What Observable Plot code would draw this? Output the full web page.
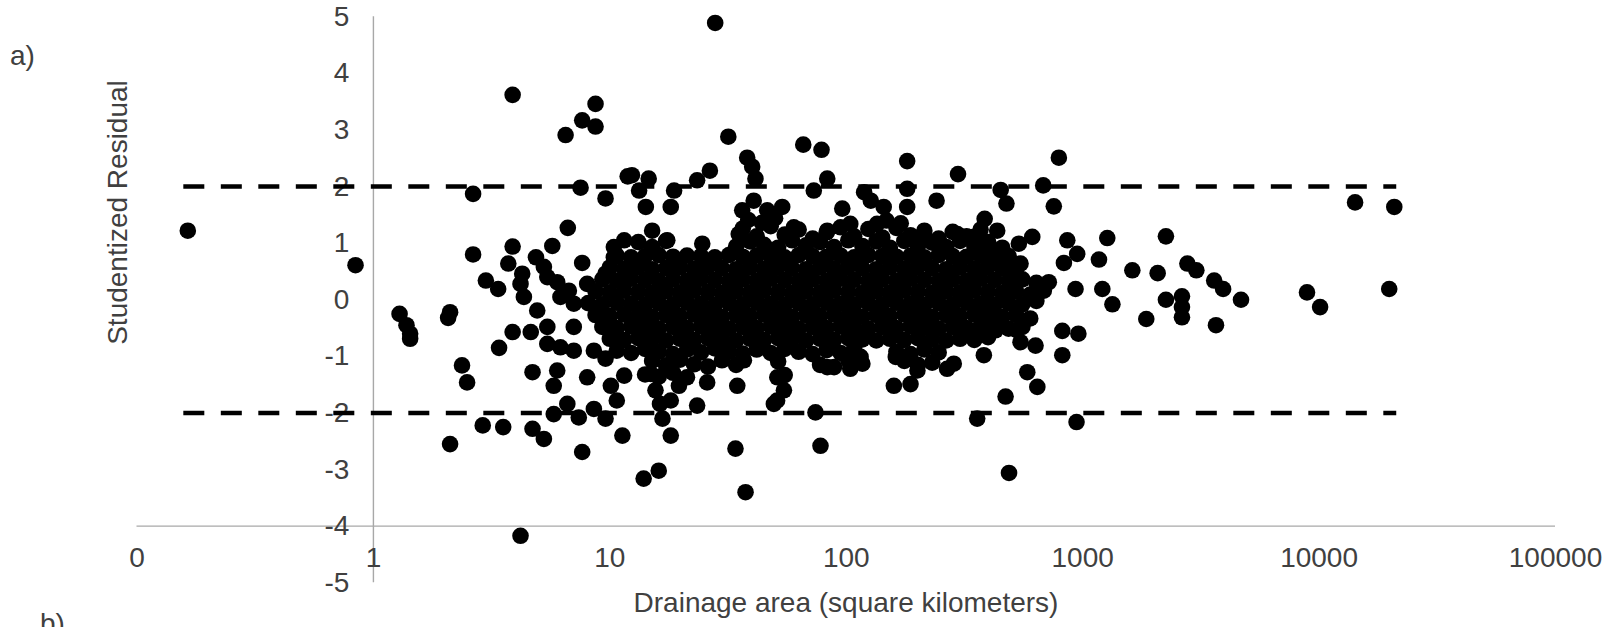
<!DOCTYPE html>
<html>
<head>
<meta charset="utf-8">
<script src="https://cdn.jsdelivr.net/npm/d3@7"></script>
<script src="https://cdn.jsdelivr.net/npm/@observablehq/plot@0.6"></script>
<style>
html, body { margin: 0; padding: 0; background: #ffffff; overflow: hidden; }
#chart { width: 1620px; height: 627px; overflow: hidden; }
</style>
</head>
<body>
<div id="chart"></div>
<script>
// ---- Data: [drainage area (km²), studentized residual] ----
const smallBasinPoints = [
  [0.164, 1.22], [0.84, 0.61],
  [1.29, -0.25], [1.38, -0.45], [1.43, -0.60], [1.43, -0.69],
  [2.11, -0.22], [2.07, -0.32], [2.37, -1.16], [2.49, -1.46], [2.11, -2.55],
  [2.64, 1.87], [2.64, 0.80], [2.99, 0.34], [3.37, 0.19], [2.90, -2.22],
  [3.88, 3.62], [3.88, 0.94], [3.72, 0.64], [4.26, 0.46], [4.87, 0.75],
  [3.54, -2.25], [4.71, -2.28], [4.19, -4.17], [3.88, -0.57], [3.40, -0.85], [4.63, -0.57], [4.71, -1.28],
  [5.71, 0.95], [5.26, 0.58], [5.44, 0.40], [4.19, 0.28], [5.99, 0.31], [4.33, 0.05], [4.93, -0.19],
  [5.26, -2.46], [5.99, -1.25], [5.79, -1.52], [5.79, -2.02], [5.44, -0.48], [5.44, -0.78]
];
const tenKmPoints = [
  [8.70, 3.46], [7.64, 3.17], [8.70, 3.06], [6.50, 2.91], [7.52, 1.98], [9.59, 1.79], [11.9, 2.18], [6.64, 1.27],
  [7.64, 0.65], [6.71, 0.16], [8.02, 0.28], [10.4, 0.93], [11.5, 1.05], [10.4, 0.75], [9.59, 0.46],
  [8.02, -1.37], [10.1, -1.52], [11.5, -1.34], [10.7, -1.78], [6.61, -1.84], [7.39, -2.08], [8.56, -1.93],
  [9.59, -2.10], [7.64, -2.69], [11.3, -2.40], [13.9, -3.16],
  [6.18, -0.84], [7.04, -0.48], [7.04, -0.90], [8.56, -0.90], [9.59, -1.04], [6.18, 0.05], [7.04, -0.07],
  [12.4, 2.20], [13.3, 1.93], [14.2, 1.64], [14.6, 2.14], [15.1, 1.22]
];
const midBasinOutliers = [
  [27.9, 4.89], [31.7, 2.88], [65.8, 2.74], [78.6, 2.65], [38.1, 2.51], [40.0, 2.35], [41.3, 2.14],
  [26.5, 2.28], [23.4, 2.11], [18.7, 1.93], [18.1, 1.64],
  [83.1, 2.14], [72.9, 1.93], [40.6, 1.75], [36.3, 1.58], [53.6, 1.64], [46.3, 1.58], [96.2, 1.61],
  [119, 1.90], [127, 1.75], [144, 1.64],
  [24.6, 0.99], [17.5, 1.05], [35.1, 1.16], [60.0, 1.28], [83.1, 1.22], [104, 1.34], [135, 1.34],
  [16.7, -2.10], [18.1, -2.40], [23.4, -1.87], [16.1, -3.02], [34.0, -2.63], [37.5, -3.40], [49.4, -1.84],
  [74.1, -1.99], [77.8, -2.58],
  [34.6, -1.52], [25.8, -1.46], [19.6, -1.52], [21.2, -1.37], [18.1, -1.78], [15.6, -1.60], [14.9, -1.31],
  [54.5, -1.60], [51.1, -1.37], [36.9, -1.07], [42.1, -0.84], [83.1, -1.19], [104, -1.22], [115, -1.01],
  [16.3, -1.84], [51.0, -1.78]
];
const largeBasinPoints = [
  [181, 2.45], [297, 2.22], [793, 2.51], [181, 1.96], [241, 1.75], [450, 1.94], [476, 1.70], [681, 2.02],
  [755, 1.65], [181, 1.64],
  [385, 1.43], [435, 1.22], [537, 0.99], [612, 1.11], [861, 1.05], [1271, 1.09], [948, 0.81], [833, 0.65],
  [1172, 0.71], [1622, 0.52],
  [719, 0.31], [685, 0.16], [933, 0.19], [1211, 0.19], [546, 0.64], [295, 1.16], [347, 1.11], [213, 1.16],
  [401, 0.93], [488, 0.58],
  [14200, 1.72], [20800, 1.64], [19800, 0.19], [8890, 0.13], [10100, -0.13],
  [2250, 1.12], [2076, 0.47], [2773, 0.64], [3026, 0.52], [3600, 0.34], [3927, 0.19], [4674, 0.00],
  [1336, -0.08], [2250, 0.00], [2630, 0.06], [2630, -0.13], [1858, -0.34], [3664, -0.45], [2630, -0.31],
  [820, -0.55], [959, -0.60], [820, -0.98], [942, -2.16],
  [162, -1.01], [159, -1.52], [187, -1.49], [200, -1.25], [267, -1.22], [285, -1.13], [382, -0.98],
  [358, -0.54], [428, -0.54], [529, -0.54], [546, -0.75], [632, -0.81], [583, -1.28], [643, -1.54],
  [472, -1.71], [358, -2.10], [488, -3.06]
];
// the dense central cloud, read band by band
const cloudUpper = [
  [38.5, 1.41], [44, 1.36], [50, 1.44], [148, 1.40], [170, 1.35],
  [36.5, 1.26], [41.8, 1.12], [47.9, 1.30], [54.9, 1.15], [62.9, 1.24], [72.1, 1.08], [82.6, 1.19], [94.6, 1.28],
  [108, 1.12], [124, 1.25], [142, 1.10], [163, 1.27], [187, 1.14], [214, 1.22], [246, 1.08], [282, 1.20],
  [323, 1.12], [370, 1.24],
  [13.2, 1.02], [15.1, 0.93], [17.3, 1.04], [34.2, 0.94], [39.2, 1.03], [44.9, 0.97], [51.5, 0.92], [59.0, 1.05],
  [67.6, 0.96], [77.5, 1.02], [88.8, 0.93], [102, 1.05], [117, 0.95], [134, 1.03], [153, 0.92], [176, 1.04],
  [201, 0.95], [231, 1.01], [265, 0.93], [303, 1.04], [348, 0.95], [398, 1.02], [457, 0.92],
  [10.7, 0.78], [12.3, 0.75], [14.1, 0.77], [16.1, 0.79], [18.5, 0.76], [21.2, 0.78], [24.3, 0.77], [27.8, 0.75],
  [31.9, 0.79], [36.5, 0.76], [41.8, 0.78], [47.9, 0.77], [54.9, 0.75], [62.9, 0.79], [72.1, 0.77], [82.6, 0.76],
  [94.6, 0.78], [108, 0.75], [124, 0.79], [142, 0.77], [163, 0.76], [187, 0.78], [214, 0.75], [246, 0.79],
  [282, 0.77], [323, 0.76], [370, 0.78], [424, 0.75], [486, 0.77],
  [10.0, 0.57], [11.5, 0.55], [13.2, 0.58], [15.1, 0.54], [17.3, 0.56], [19.8, 0.57], [22.7, 0.55], [26.0, 0.58],
  [29.8, 0.56], [34.2, 0.54], [39.2, 0.57], [44.9, 0.55], [51.5, 0.58], [59.0, 0.56], [67.6, 0.54], [77.5, 0.57],
  [88.8, 0.55], [102, 0.58], [117, 0.56], [134, 0.54], [153, 0.57], [176, 0.55], [201, 0.58], [231, 0.56],
  [265, 0.54], [303, 0.57], [348, 0.55], [398, 0.58], [457, 0.56], [523, 0.54],
  [9.3, 0.36], [10.7, 0.34], [12.3, 0.37], [14.1, 0.35], [16.1, 0.33], [18.5, 0.36], [21.2, 0.34], [24.3, 0.37],
  [27.8, 0.35], [31.9, 0.33], [36.5, 0.36], [41.8, 0.34], [47.9, 0.37], [54.9, 0.35], [62.9, 0.33], [72.1, 0.36],
  [82.6, 0.34], [94.6, 0.37], [108, 0.35], [124, 0.33], [142, 0.36], [163, 0.34], [187, 0.37], [214, 0.35],
  [246, 0.33], [282, 0.36], [323, 0.34], [370, 0.37], [424, 0.35], [486, 0.33], [556, 0.36], [637, 0.30],
  [8.7, 0.15], [10.0, 0.13], [11.5, 0.16], [13.2, 0.14], [15.1, 0.12], [17.3, 0.15], [19.8, 0.13], [22.7, 0.16],
  [26.0, 0.14], [29.8, 0.12], [34.2, 0.15], [39.2, 0.13], [44.9, 0.16], [51.5, 0.14], [59.0, 0.12], [67.6, 0.15],
  [77.5, 0.13], [88.8, 0.16], [102, 0.14], [117, 0.12], [134, 0.15], [153, 0.13], [176, 0.16], [201, 0.14],
  [231, 0.12], [265, 0.15], [303, 0.13], [348, 0.16], [398, 0.14], [457, 0.12], [523, 0.15], [600, 0.09]
];
const cloudLower = [
  [8.1, -0.06], [9.3, -0.08], [10.7, -0.05], [12.3, -0.07], [14.1, -0.09], [16.1, -0.06], [18.5, -0.08],
  [21.2, -0.05], [24.3, -0.07], [27.8, -0.09], [31.9, -0.06], [36.5, -0.08], [41.8, -0.05], [47.9, -0.07],
  [54.9, -0.09], [62.9, -0.06], [72.1, -0.08], [82.6, -0.05], [94.6, -0.07], [108, -0.09], [124, -0.06],
  [142, -0.08], [163, -0.05], [187, -0.07], [214, -0.09], [246, -0.06], [282, -0.08], [323, -0.05],
  [370, -0.07], [424, -0.09], [486, -0.06], [556, -0.08], [637, -0.02],
  [8.7, -0.27], [10.0, -0.29], [11.5, -0.26], [13.2, -0.28], [15.1, -0.30], [17.3, -0.27], [19.8, -0.29],
  [22.7, -0.26], [26.0, -0.28], [29.8, -0.30], [34.2, -0.27], [39.2, -0.29], [44.9, -0.26], [51.5, -0.28],
  [59.0, -0.30], [67.6, -0.27], [77.5, -0.29], [88.8, -0.26], [102, -0.28], [117, -0.30], [134, -0.27],
  [153, -0.29], [176, -0.26], [201, -0.28], [231, -0.30], [265, -0.27], [303, -0.29], [348, -0.26],
  [398, -0.28], [457, -0.30], [523, -0.27], [600, -0.33],
  [9.3, -0.48], [10.7, -0.50], [12.3, -0.47], [14.1, -0.49], [16.1, -0.51], [18.5, -0.48], [21.2, -0.50],
  [24.3, -0.47], [27.8, -0.49], [31.9, -0.51], [36.5, -0.48], [41.8, -0.50], [47.9, -0.47], [54.9, -0.49],
  [62.9, -0.51], [72.1, -0.48], [82.6, -0.50], [94.6, -0.47], [108, -0.49], [124, -0.51], [142, -0.48],
  [163, -0.50], [187, -0.47], [214, -0.49], [246, -0.51], [282, -0.48], [323, -0.50], [370, -0.47],
  [424, -0.49], [486, -0.51], [556, -0.48],
  [10.0, -0.69], [11.5, -0.71], [13.2, -0.68], [15.1, -0.70], [17.3, -0.72], [19.8, -0.69], [22.7, -0.71],
  [26.0, -0.68], [29.8, -0.70], [34.2, -0.72], [39.2, -0.69], [44.9, -0.71], [51.5, -0.68], [59.0, -0.70],
  [67.6, -0.72], [77.5, -0.69], [88.8, -0.71], [102, -0.68], [117, -0.70], [134, -0.72], [153, -0.69],
  [176, -0.71], [201, -0.68], [231, -0.70], [265, -0.72], [303, -0.69], [348, -0.71], [398, -0.66],
  [10.7, -0.90], [12.3, -0.94], [14.1, -0.87], [16.1, -0.92], [18.5, -0.96], [21.2, -0.88], [24.3, -0.93],
  [27.8, -0.86], [31.9, -0.91], [36.5, -0.95], [41.8, -0.88], [47.9, -0.94], [54.9, -0.87], [62.9, -0.92],
  [72.1, -0.96], [82.6, -0.89], [94.6, -0.94], [108, -0.87], [163, -0.92], [187, -0.96], [214, -0.88],
  [246, -0.93],
  [15.1, -1.08], [17.3, -1.16], [19.8, -1.06], [22.7, -1.14], [26.0, -1.18], [29.8, -1.07], [34.2, -1.15],
  [51.5, -1.09], [77.5, -1.15], [88.8, -1.19], [102, -1.07], [117, -1.13], [176, -1.08], [201, -1.15],
  [231, -1.11],
  [14.1, -1.32], [16.1, -1.36], [18.5, -1.29], [54.9, -1.33]
];

// reference lines at ±2 (drawn across the data's range of areas)
const thresholdLevels = [2, -2];
const thresholdSpan = [0.157, 21200];

// axis ticks
const xTickValues = [0.1, 1, 10, 100, 1000, 10000, 100000];
const xTickLabels = ["0", "1", "10", "100", "1000", "10000", "100000"];
const yTickValues = [5, 4, 3, 2, 1, 0, -1, -2, -3, -4, -5];
const yTickLabels = ["5", "4", "3", "2", "1", "0", "-1", "-2", "-3", "-4", "-5"];

const xAxisTitle = "Drainage area (square kilometers)";
const yAxisTitle = "Studentized Residual";
const panelLabels = ["a)", "b)"];

// ---- build ----
const points = [].concat(smallBasinPoints, tenKmPoints, midBasinOutliers, largeBasinPoints, cloudUpper, cloudLower)
  .map(([a, r]) => ({area: a, resid: r}));
const xTicks = xTickValues.map((v, i) => ({v, label: xTickLabels[i]}));
const yTicks = yTickValues.map((v, i) => ({v, label: yTickLabels[i]}));
const thresholds = thresholdLevels.map(l => ({x1: thresholdSpan[0], x2: thresholdSpan[1], y: l}));

const textColor = "#404040";
const axisColor = "#a8a8a8";
const fontFamily = "'Liberation Sans', Arial, Helvetica, sans-serif";

const svg = Plot.plot({
  width: 1620,
  height: 627,
  marginLeft: 136.5,
  marginRight: 65,
  marginTop: 16.25,
  marginBottom: 44.75,
  x: {type: "log", domain: [0.1, 100000], axis: null},
  y: {domain: [-5, 5], axis: null},
  style: {fontFamily, background: "#ffffff", color: textColor},
  marks: [
    Plot.ruleY([-4], {stroke: axisColor, strokeWidth: 1.4}),
    Plot.ruleX([1], {stroke: axisColor, strokeWidth: 1.4}),
    Plot.text(xTicks, {x: "v", y: () => -4, text: "label", dy: 31.5, fontSize: 28, fill: textColor}),
    Plot.text(yTicks, {x: () => 1, y: "v", text: "label", textAnchor: "end", dx: -24, fontSize: 28, fill: textColor}),
    Plot.link(thresholds, {x1: "x1", x2: "x2", y1: "y", y2: "y", stroke: "#000", strokeWidth: 4.5, strokeDasharray: "21,16.5"}),
    Plot.dot(points, {x: "area", y: "resid", r: 8.3, fill: "#000", stroke: null})
  ]
});

const s = d3.select(svg);
const addText = (x, y, str, anchor, transform) => {
  const t = s.append("text")
    .attr("text-anchor", anchor)
    .attr("font-size", 28)
    .attr("font-family", fontFamily)
    .attr("fill", textColor)
    .text(str);
  if (transform) t.attr("transform", transform); else t.attr("x", x).attr("y", y);
  return t;
};
addText(0, 0, yAxisTitle, "middle", "translate(127,212.5) rotate(-90)");
addText(846, 611.5, xAxisTitle, "middle");
addText(10, 65, panelLabels[0], "start");
addText(40, 633, panelLabels[1], "start");

document.getElementById("chart").appendChild(svg);
</script>
</body>
</html>
